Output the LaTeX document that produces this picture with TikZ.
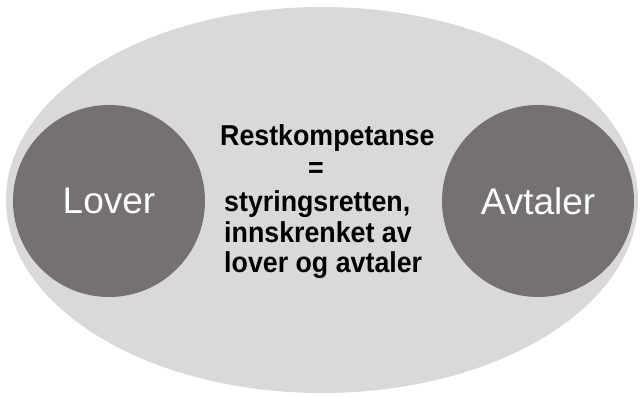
\documentclass[tikz,border=0pt]{standalone}
\usepackage{fontspec}
\setmainfont{Liberation Sans}
\newfontfamily\midfont[FakeStretch=0.93]{Liberation Sans}
\definecolor{outerfill}{HTML}{D9D9D9}
\definecolor{circfill}{HTML}{767171}
\begin{document}
\begin{tikzpicture}[x=1pt,y=1pt,
  circbox/.style={circle, fill=circfill, minimum size=192pt, inner sep=0pt,
    text=white, font=\fontsize{37}{40}\selectfont},
  midtext/.style={font=\midfont\bfseries\fontsize{28.8}{32}\selectfont, inner sep=0pt, text=black}]
\useasboundingbox (0,0) rectangle (640,398);
\fill[outerfill] (322,198) ellipse [x radius=316, y radius=193];
\node[circbox] (lover) at (109,197) {Lover};
\node[circbox] (avtaler) at (538,197) {Avtaler};
\node[midtext, anchor=base west] (t1) at (220,398-146) {Restkompetanse};
\node[midtext, anchor=base] (t2) at (316,398-178) {=};
\node[midtext, anchor=base west] (t3) at (224,398-212) {styringsretten,};
\node[midtext, anchor=base west] (t4) at (224,398-243) {innskrenket av};
\node[midtext, anchor=base west] (t5) at (224,398-273) {lover og avtaler};
\end{tikzpicture}
\end{document}
